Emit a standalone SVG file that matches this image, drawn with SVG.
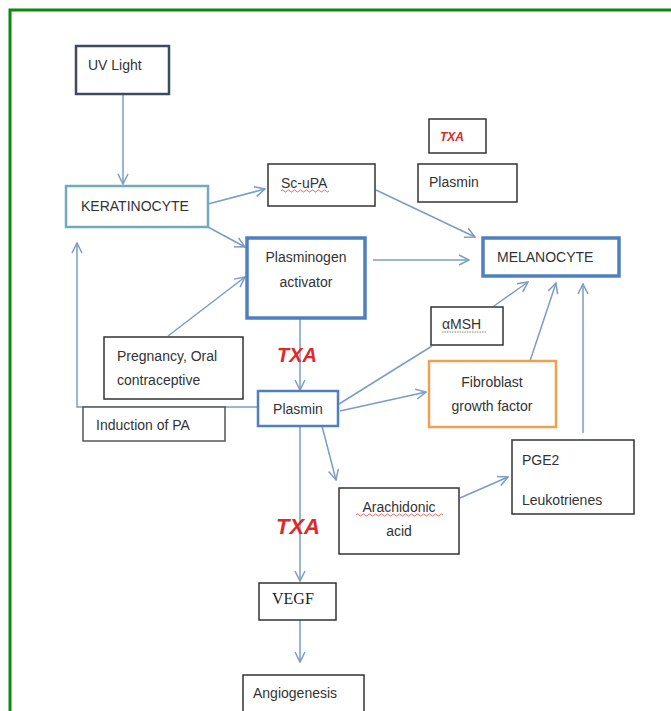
<svg xmlns="http://www.w3.org/2000/svg" width="671" height="711" viewBox="0 0 671 711">
<defs>
<marker id="ah" viewBox="0 0 12 12" refX="11" refY="6" markerWidth="12" markerHeight="12" markerUnits="userSpaceOnUse" orient="auto">
<path d="M1,1 L11,6 L1,11" fill="none" stroke="#7a9cc6" stroke-width="1.5"/>
</marker>
</defs>
<style>
.t{font-family:"Liberation Sans",Arial,sans-serif;font-size:14px;fill:#333}
.s{font-family:"Liberation Serif","Times New Roman",serif;font-size:16px;fill:#222}
.red{font-family:"Liberation Sans",Arial,sans-serif;font-style:italic;font-weight:bold;fill:#e02828}
.b{fill:#fff;stroke:#333;stroke-width:1.5}
.blue{fill:#fff;stroke:#4f7fc0;stroke-width:3.5}
.c{fill:none;stroke:#7a9cc6;stroke-width:1.5}
.a{marker-end:url(#ah)}
</style>
<rect x="0" y="0" width="671" height="711" fill="#fff"/>
<rect x="10" y="10" width="700" height="740" fill="none" stroke="#0a8a0a" stroke-width="3"/>

<g id="connectors">
<line class="c a" x1="123" y1="94" x2="123" y2="184"/>
<line class="c a" x1="208" y1="204" x2="265" y2="189"/>
<line class="c a" x1="208" y1="227" x2="245" y2="247"/>
<line class="c a" x1="168" y1="336" x2="245" y2="277"/>
<line class="c a" x1="373" y1="260" x2="469" y2="260"/>
<line class="c a" x1="376" y1="190" x2="475" y2="237"/>
<line class="c a" x1="300" y1="318" x2="300" y2="390"/>
<polyline class="c a" points="258,407 77,407 77,243"/>
<line class="c" x1="339" y1="404" x2="432" y2="346"/>
<line class="c a" x1="494" y1="306" x2="528" y2="282"/>
<line class="c a" x1="340" y1="411" x2="426" y2="392"/>
<line class="c a" x1="530" y1="361" x2="556" y2="283"/>
<line class="c a" x1="583" y1="433" x2="583" y2="284"/>
<line class="c a" x1="322" y1="426" x2="336" y2="480"/>
<line class="c a" x1="460" y1="498" x2="508" y2="477"/>
<line class="c a" x1="300" y1="426" x2="300" y2="581"/>
<line class="c a" x1="300" y1="620" x2="300" y2="662"/>
</g>

<g id="uv-light">
<rect x="76" y="46" width="93" height="48" fill="#fff" stroke="#3e4a64" stroke-width="2.5"/>
<text class="t" x="88" y="70">UV Light</text>
</g>
<g id="keratinocyte">
<rect x="66" y="186" width="142" height="41" fill="#fff" stroke="#72aabf" stroke-width="2.5"/>
<text class="t" x="81" y="211">KERATINOCYTE</text>
</g>
<g id="sc-upa">
<rect class="b" x="268" y="164" width="107" height="42"/>
<text class="t" x="281" y="188">Sc-uPA</text>
<path d="M281,191 q1.5,-2 3,0 t3,0 t3,0 t3,0 t3,0 t3,0 t3,0 t3,0 t3,0 t3,0 t3,0 t3,0 t3,0 t3,0 t3,0 t3,0" fill="none" stroke="#e04040" stroke-width="0.8"/>
</g>
<g id="txa-box">
<rect class="b" x="429" y="119" width="57" height="34"/>
<text class="red" x="440" y="141" font-size="12">TXA</text>
</g>
<g id="plasmin-top">
<rect class="b" x="418" y="164" width="99" height="38"/>
<text class="t" x="429" y="187">Plasmin</text>
</g>
<g id="melanocyte">
<rect class="blue" x="483" y="238" width="136" height="38"/>
<text class="t" x="497" y="262">MELANOCYTE</text>
</g>
<g id="plasminogen-activator">
<rect class="blue" x="247" y="238" width="118" height="80"/>
<text class="t" x="306" y="262" text-anchor="middle">Plasminogen</text>
<text class="t" x="306" y="287" text-anchor="middle">activator</text>
</g>
<g id="amsh">
<rect class="b" x="431" y="307" width="72" height="38"/>
<text class="t" x="442" y="329">αMSH</text>
<line x1="442" y1="332" x2="486" y2="332" stroke="#4a7a4a" stroke-width="0.8" stroke-dasharray="1.5,1"/>
</g>
<g id="fibroblast-growth-factor">
<rect x="429" y="361" width="127" height="66" fill="#fff" stroke="#f0a050" stroke-width="2.5"/>
<text class="t" x="492" y="387" text-anchor="middle">Fibroblast</text>
<text class="t" x="492" y="411" text-anchor="middle">growth factor</text>
</g>
<g id="pge2-leukotrienes">
<rect class="b" x="512" y="440" width="122" height="74"/>
<text class="t" x="522" y="465">PGE2</text>
<text class="t" x="522" y="505">Leukotrienes</text>
</g>
<g id="arachidonic-acid">
<rect class="b" x="339" y="488" width="120" height="66"/>
<text class="t" x="399" y="512" text-anchor="middle">Arachidonic</text>
<path d="M356,515 q1.5,-2 3,0 t3,0 t3,0 t3,0 t3,0 t3,0 t3,0 t3,0 t3,0 t3,0 t3,0 t3,0 t3,0 t3,0 t3,0 t3,0 t3,0 t3,0 t3,0 t3,0 t3,0 t3,0 t3,0 t3,0 t3,0 t3,0 t3,0 t3,0 t3,0" fill="none" stroke="#e04040" stroke-width="0.8"/>
<text class="t" x="399" y="536" text-anchor="middle">acid</text>
</g>
<g id="pregnancy">
<rect class="b" x="104" y="337" width="139" height="62"/>
<text class="t" x="117" y="361">Pregnancy, Oral</text>
<text class="t" x="117" y="385">contraceptive</text>
</g>
<g id="plasmin-center">
<rect x="258" y="391" width="80" height="35" fill="#fff" stroke="#4f7fc0" stroke-width="2.5"/>
<text class="t" x="298" y="414" text-anchor="middle">Plasmin</text>
</g>
<g id="induction-of-pa">
<rect x="83" y="407" width="142" height="34" fill="#fff" stroke="#555" stroke-width="1.5"/>
<text class="t" x="96" y="430">Induction of PA</text>
</g>
<g id="txa-1">
<text class="red" x="297" y="362" font-size="20" text-anchor="middle" font-weight="normal">TXA</text>
</g>
<g id="txa-2">
<text class="red" x="298" y="534" font-size="22" text-anchor="middle">TXA</text>
</g>
<g id="vegf">
<rect class="b" x="259" y="583" width="77" height="37"/>
<text class="s" x="272" y="604">VEGF</text>
</g>
<g id="angiogenesis">
<rect class="b" x="243" y="675" width="121" height="50"/>
<text class="t" x="253" y="698">Angiogenesis</text>
</g>
</svg>
